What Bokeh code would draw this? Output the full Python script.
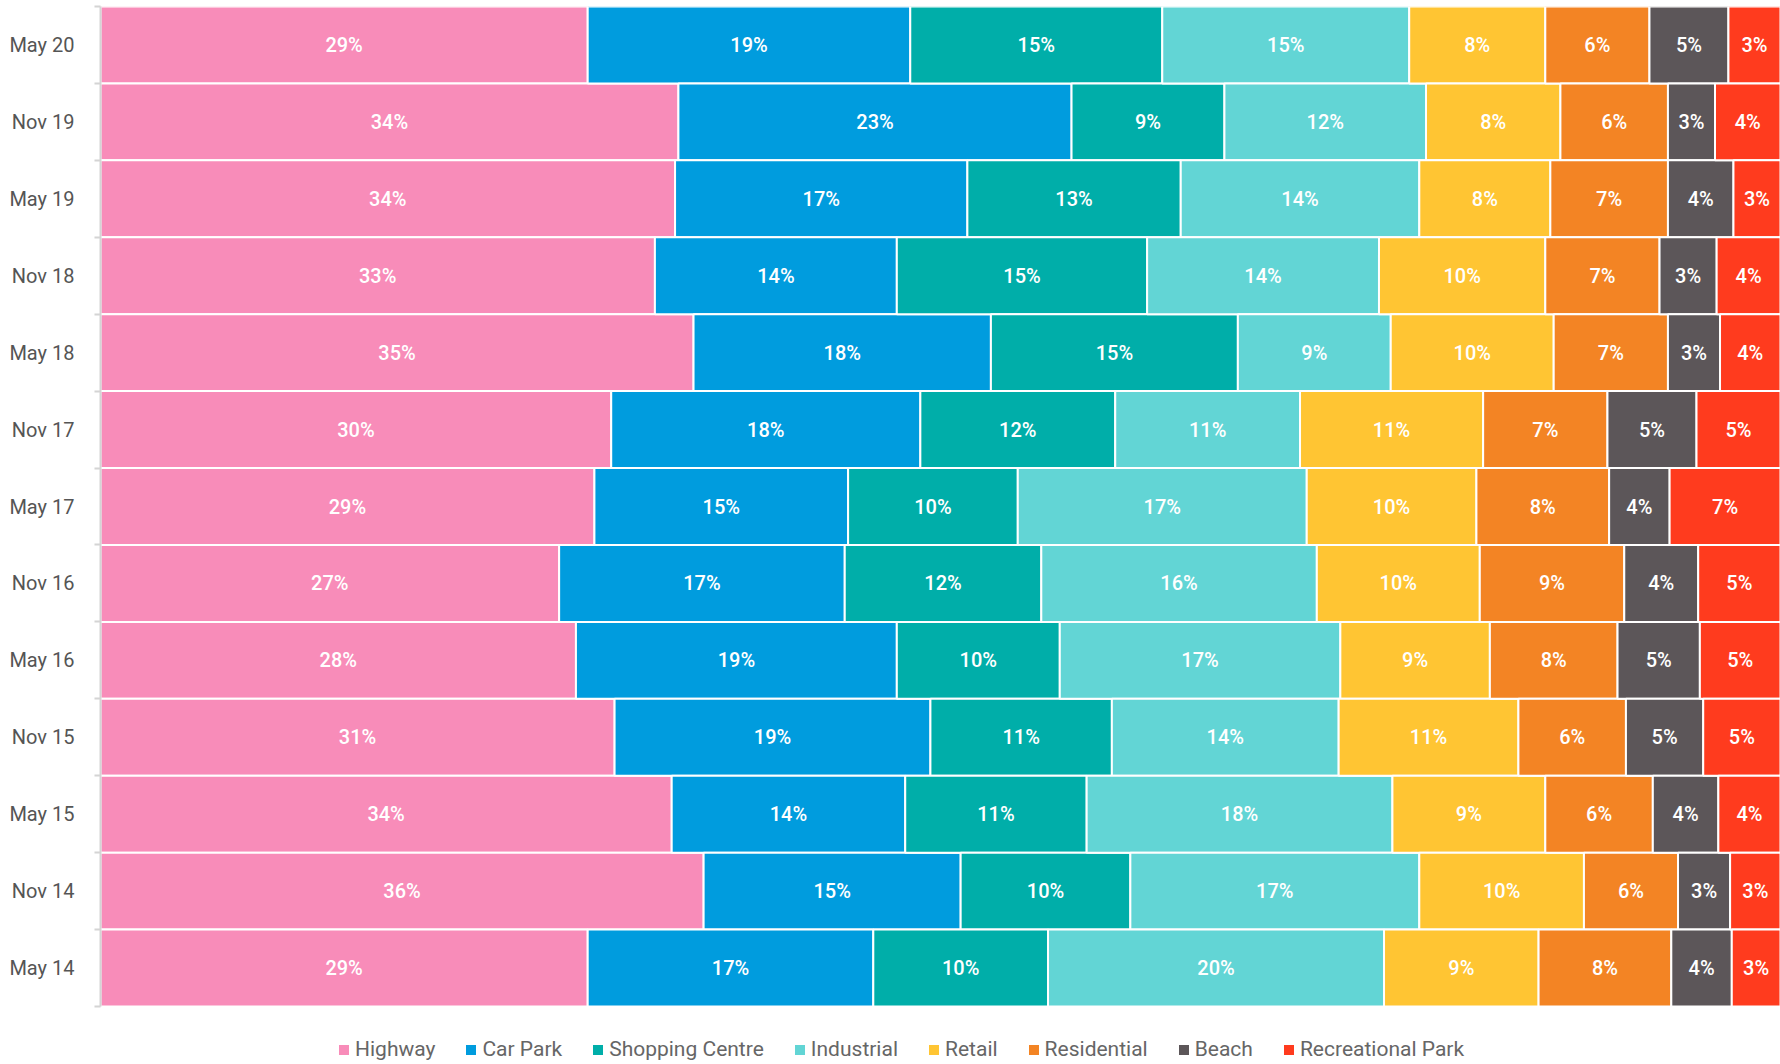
from bokeh.plotting import figure
from bokeh.models import ColumnDataSource, Range1d, FixedTicker, Legend, LegendItem
from bokeh.core.properties import value
from bokeh.embed import file_html
from bokeh.resources import INLINE

categories = ["May 20", "Nov 19", "May 19", "Nov 18", "May 18", "Nov 17", "May 17",
              "Nov 16", "May 16", "Nov 15", "May 15", "Nov 14", "May 14"]

series_names = ["Highway", "Car Park", "Shopping Centre", "Industrial", "Retail",
                "Residential", "Beach", "Recreational Park"]

highway = [29.0, 34.4, 34.2, 33.0, 35.3, 30.4, 29.4, 27.3, 28.3, 30.6, 34.0, 35.9, 29.0]
car_park = [19.2, 23.4, 17.4, 14.4, 17.7, 18.4, 15.1, 17.0, 19.1, 18.8, 13.9, 15.3, 17.0]
shopping_centre = [15.0, 9.1, 12.7, 14.9, 14.7, 11.6, 10.1, 11.7, 9.7, 10.8, 10.8, 10.1, 10.4]
industrial = [14.7, 12.0, 14.2, 13.8, 9.1, 11.0, 17.2, 16.4, 16.7, 13.5, 18.2, 17.2, 20.0]
retail = [8.1, 8.0, 7.8, 9.9, 9.7, 10.9, 10.1, 9.7, 8.9, 10.7, 9.1, 9.8, 9.2]
residential = [6.2, 6.4, 7.0, 6.8, 6.8, 7.4, 7.9, 8.6, 7.6, 6.4, 6.4, 5.6, 7.9]
beach = [4.7, 2.8, 3.9, 3.4, 3.1, 5.3, 3.6, 4.4, 4.9, 4.6, 3.9, 3.1, 3.6]
recreational_park = [3.1, 3.9, 2.8, 3.8, 3.6, 5.0, 6.6, 4.9, 4.8, 4.6, 3.7, 3.0, 2.9]

colors = ["#F88CB9", "#009CDE", "#00AEA9", "#62D5D5", "#FFC533", "#F38424", "#5C5659", "#FF3B1E"]

series_values = [highway, car_park, shopping_centre, industrial, retail,
                 residential, beach, recreational_park]

FONT = "Roboto"
LABEL_FONT = "'Roboto Medium', Roboto"
n = len(categories)
ys = [n - 1 - i + 0.5 for i in range(n)]

# frame extends below the bars so the legend can sit inside it
BAR_PX = 1000.0
EXTRA_PX = 56
p = figure(frame_width=1680, frame_height=int(BAR_PX + EXTRA_PX),
           x_range=Range1d(0, 100), y_range=Range1d(-EXTRA_PX * n / BAR_PX, n),
           output_backend="svg", toolbar_location=None,
           x_axis_location=None,
           min_border_left=100, min_border_right=0, min_border_top=6, min_border_bottom=0)
p.outline_line_color = None
p.grid.visible = False

lefts = [0.0] * n
items = []
for name, vals, col in zip(series_names, series_values, colors):
    rights = [l + v for l, v in zip(lefts, vals)]
    src = ColumnDataSource(dict(
        y=ys, left=lefts, right=rights,
        xc=[(l + r) / 2 for l, r in zip(lefts, rights)],
        label=[f"{v:.0f}%" for v in vals],
    ))
    r = p.hbar(y="y", left="left", right="right", height=1.0, source=src,
               fill_color=col, line_color="white", line_width=2)
    p.text(x="xc", y="y", text="label", source=src, text_color="white",
           text_font=value(LABEL_FONT), text_font_size="20px",
           text_align="center", text_baseline="middle")
    items.append(LegendItem(label=name, renderers=[r]))
    lefts = rights

ax = p.yaxis[0]
ax.bounds = (0, n)
ax.ticker = FixedTicker(ticks=ys, minor_ticks=list(range(n + 1)))
ax.major_label_overrides = {y: c for y, c in zip(ys, categories)}
ax.major_tick_line_color = None
ax.major_tick_out = 0
ax.major_tick_in = 0
ax.minor_tick_line_color = "#d4d4d4"
ax.minor_tick_line_width = 2
ax.minor_tick_out = 6
ax.minor_tick_in = 0
ax.axis_line_color = "#d4d4d4"
ax.axis_line_width = 2
ax.major_label_standoff = 20
ax.major_label_text_font = FONT
ax.major_label_text_font_size = "20px"
ax.major_label_text_color = "#555555"

legend = Legend(items=items, orientation="horizontal", location=(236, 1),
                glyph_width=15, glyph_height=15, label_standoff=4, spacing=28,
                padding=0, margin=0, border_line_color=None,
                background_fill_alpha=0,
                label_text_font=FONT, label_text_font_size="21px",
                label_text_color="#666666")
p.add_layout(legend)

open("out.html", "w").write(file_html(p, INLINE))
